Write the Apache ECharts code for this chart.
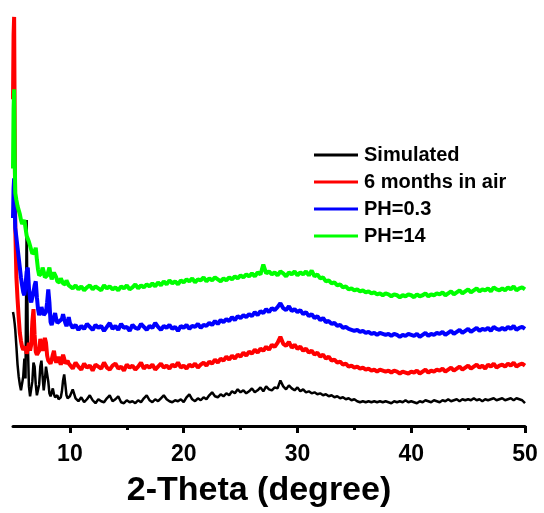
<!DOCTYPE html>
<html>
<head>
<meta charset="utf-8">
<title>XRD patterns</title>
<script src="https://cdn.jsdelivr.net/npm/echarts@6/dist/echarts.min.js"></script>
<style>
  html, body { margin: 0; padding: 0; background: #ffffff; }
  #chart { width: 544px; height: 513px; }
</style>
</head>
<body>
<div id="chart"></div>
<script>
// Sampling grid: fine steps at low angle, 0.25 degree steps from 10 to 50
const lowAngle = [5.00, 5.05, 5.10, 5.15, 5.20, 5.3, 5.4, 5.5, 5.6, 5.7, 5.8, 5.9,
  6.0, 6.1, 6.2, 6.3, 6.4, 6.5, 6.6, 6.7, 6.8, 6.9,
  7.0, 7.1, 7.2, 7.3, 7.4, 7.5, 7.6, 7.7, 7.8, 7.9,
  8.0, 8.1, 8.2, 8.3, 8.4, 8.5, 8.6, 8.7, 8.8, 8.9,
  9.0, 9.1, 9.2, 9.3, 9.4, 9.5, 9.6, 9.7, 9.8, 9.9];
const wideScan = [];
for (let k = 0; k <= 160; k++) wideScan.push(+(10 + k * 0.25).toFixed(2));

const seriesNames = ['Simulated', '6 months in air', 'PH=0.3', 'PH=14'];
const tickLabels = [10, 20, 30, 40, 50];
const minorTicks = [15, 25, 35, 45];

// Intensities (offset stacked, arbitrary units)
const simulatedLow = [115, 112, 108, 103, 97, 80, 62, 50, 42, 36, 34, 50,
  68, 48, 208, 85, 40, 30, 32, 45, 64, 60,
  42, 31, 30, 42, 60, 66, 50, 36, 46, 60,
  62, 45, 33, 30, 34, 38, 32, 29, 28, 31,
  27, 26, 29, 35, 46, 52, 42, 31, 28, 27];
const simulatedHigh = [
  30, 37, 28, 25, 29, 24, 27, 31,
  26, 23, 27, 25, 24, 28, 31, 25,
  27, 30, 24, 23, 26, 24, 25, 23,
  26, 24, 28, 31, 26, 24, 27, 25,
  28, 31, 27, 25, 24, 26, 25, 27,
  24, 29, 32, 27, 25, 28, 26, 29,
  27, 31, 34, 30, 29, 32, 30, 33,
  31, 35, 33, 37, 34, 36, 33, 35,
  38, 34, 36, 39, 35, 40, 37, 36,
  39, 38, 46, 40, 37, 41, 38, 36,
  39, 35, 37, 34, 35, 33, 34, 32,
  33, 31, 32, 30, 31, 29, 30, 28,
  29, 27, 28, 26, 27, 25, 24, 25,
  24, 25, 24, 25, 24, 25, 24, 25,
  24, 23, 25, 24, 25, 24, 26, 24,
  25, 24, 23, 25, 24, 26, 25, 24,
  26, 25, 24, 26, 25, 27, 25, 26,
  27, 25, 27, 26, 27, 26, 28, 26,
  27, 25, 27, 26, 27, 28, 26, 27,
  28, 26, 27, 28, 26, 28, 27, 26,
  23];

const airLow = [330, 395, 413, 300, 200, 150, 128, 110, 94, 86, 80, 77,
  75, 80, 73, 78, 84, 76, 82, 105, 118, 92,
  75, 72, 70, 76, 88, 90, 76, 80, 89, 84,
  71, 66, 64, 63, 67, 72, 76, 68, 64, 66,
  70, 65, 62, 66, 72, 68, 63, 61, 66, 63];
const airHigh = [
  62, 58, 64, 60, 57, 63, 59, 61,
  56, 62, 60, 58, 64, 59, 57, 61,
  63, 58, 60, 56, 62, 59, 61, 57,
  60, 64, 58, 61, 59, 62, 57, 60,
  63, 59, 61, 58, 62, 60, 64, 59,
  61, 58, 62, 60, 63, 59, 62, 64,
  61, 65, 63, 67, 64, 68, 66, 70,
  67, 71, 68, 72, 70, 74, 71, 75,
  73, 77, 74, 78, 76, 80, 77, 82,
  80, 84, 90, 83, 81, 85, 79, 82,
  78, 80, 76, 78, 74, 76, 72, 74,
  70, 72, 68, 70, 66, 67, 64, 65,
  62, 63, 60, 61, 59, 60, 58, 59,
  57, 58, 56, 57, 55, 57, 56, 55,
  56, 54, 56, 55, 53, 55, 54, 53,
  55, 54, 56, 53, 55, 57, 54, 56,
  55, 57, 56, 58, 55, 57, 59, 56,
  58, 60, 57, 59, 61, 58, 60, 62,
  59, 61, 58, 62, 60, 63, 59, 61,
  62, 60, 63, 61, 64, 60, 62, 63,
  61];

const acidLow = [210, 240, 250, 220, 200, 190, 180, 170, 160, 150, 142, 135,
  132, 142, 156, 160, 140, 128, 125, 130, 135, 142,
  146, 130, 118, 112, 115, 120, 118, 112, 110, 115,
  125, 138, 125, 105, 102, 106, 110, 114, 108, 104,
  102, 106, 104, 108, 113, 108, 104, 101, 104, 110];
const acidHigh = [
  104, 99, 102, 97, 101, 98, 103, 100,
  97, 102, 99, 101, 96, 100, 104, 98,
  101, 97, 103, 99, 100, 96, 102, 99,
  98, 103, 100, 97, 101, 99, 104, 100,
  97, 101, 99, 102, 98, 100, 96, 101,
  99, 102, 98, 101, 100, 103, 99, 102,
  101, 104, 102, 106, 103, 107, 105, 108,
  106, 110, 107, 111, 109, 112, 110, 113,
  111, 115, 112, 116, 114, 118, 115, 119,
  117, 120, 124, 119, 117, 121, 116, 118,
  115, 117, 113, 115, 111, 113, 109, 111,
  107, 109, 105, 106, 103, 104, 101, 102,
  99, 100, 98, 97, 96, 97, 95, 96,
  94, 95, 93, 94, 92, 94, 93, 92,
  93, 91, 93, 92, 90, 92, 91, 93,
  92, 91, 93, 90, 92, 94, 91, 93,
  92, 94, 93, 95, 92, 94, 96, 93,
  95, 97, 94, 96, 98, 95, 97, 99,
  96, 98, 97, 99, 96, 100, 98, 97,
  99, 97, 100, 98, 101, 97, 99, 100,
  98];

const alkaliLow = [260, 320, 340, 270, 235, 228, 222, 218, 214, 208, 204, 206,
  208, 200, 192, 190, 186, 182, 178, 174, 172, 176,
  180, 168, 158, 152, 150, 154, 160, 156, 150, 148,
  152, 156, 160, 153, 148, 150, 155, 157, 150, 146,
  148, 145, 149, 147, 144, 146, 143, 147, 145, 142];
const alkaliHigh = [
  143, 139, 142, 138, 141, 137, 140, 142,
  138, 141, 139, 137, 142, 139, 141, 138,
  140, 137, 141, 139, 142, 138, 140, 143,
  139, 142, 140, 143, 141, 144, 141, 145,
  142, 146, 143, 147, 144, 146, 143, 147,
  145, 148, 146, 149, 145, 148, 147, 150,
  146, 149, 147, 150, 148, 146, 149, 147,
  150, 148, 151, 149, 152, 150, 153, 151,
  154, 151, 155, 153, 163, 154, 156, 153,
  155, 152, 156, 154, 151, 155, 153, 156,
  152, 155, 153, 156, 152, 157, 151, 153,
  149, 150, 146, 147, 144, 145, 142, 143,
  140, 141, 138, 139, 137, 138, 136, 137,
  135, 136, 134, 135, 133, 134, 132, 134,
  133, 131, 133, 132, 130, 132, 131, 133,
  132, 130, 133, 131, 132, 134, 131, 133,
  132, 134, 133, 135, 132, 134, 136, 133,
  135, 137, 134, 136, 138, 135, 137, 139,
  136, 138, 137, 139, 136, 140, 138, 137,
  139, 137, 140, 138, 141, 137, 139, 140,
  138];

const twoTheta = lowAngle.concat(wideScan);

function pattern(low, high) {
  const counts = low.concat(high);
  return twoTheta.map((x, i) => [x, counts[i]]);
}

const lineColors = ['#000000', '#ff0000', '#0000ff', '#00ff00'];
const lineWidths = [2.5, 4, 4, 4];
const patterns = [
  pattern(simulatedLow, simulatedHigh),
  pattern(airLow, airHigh),
  pattern(acidLow, acidHigh),
  pattern(alkaliLow, alkaliHigh)
];

const FONT = '"Liberation Sans", Arial, Helvetica, sans-serif';

const chart = echarts.init(document.getElementById('chart'), null, { renderer: 'canvas' });

chart.setOption({
  animation: false,
  backgroundColor: '#ffffff',
  grid: { left: 13, right: 19, top: 10, bottom: 83 },
  legend: {
    data: seriesNames,
    orient: 'vertical',
    left: 309,
    top: 140,
    icon: 'path://M0,0H44V3H0Z',
    itemWidth: 44,
    itemHeight: 20,
    itemGap: 7,
    textStyle: {
      fontFamily: FONT,
      fontWeight: 'bold',
      fontSize: 20,
      lineHeight: 20,
      color: '#000000',
      padding: [0, 0, 0, 1]
    }
  },
  xAxis: [
    {
      type: 'value',
      min: 5,
      max: 50,
      position: 'bottom',
      splitLine: { show: false },
      axisLine: { show: true, lineStyle: { color: '#000000', width: 3 } },
      axisTick: {
        show: true,
        inside: false,
        length: 7,
        customValues: tickLabels,
        lineStyle: { color: '#000000', width: 3 }
      },
      axisLabel: {
        customValues: tickLabels,
        margin: 17,
        fontFamily: FONT,
        fontWeight: 'bold',
        fontSize: 23,
        color: '#000000'
      },
      name: '2-Theta (degree)',
      nameLocation: 'middle',
      nameGap: 48,
      nameTextStyle: {
        fontFamily: FONT,
        fontWeight: 'bold',
        fontSize: 34,
        color: '#000000',
        padding: [0, 20, 0, 0]
      }
    },
    {
      type: 'value',
      min: 5,
      max: 50,
      position: 'bottom',
      splitLine: { show: false },
      axisLine: { show: false },
      axisTick: {
        show: true,
        inside: false,
        length: 4,
        customValues: minorTicks,
        lineStyle: { color: '#000000', width: 3 }
      },
      axisLabel: { show: false }
    }
  ],
  yAxis: {
    type: 'value',
    min: 0,
    max: 420,
    show: false
  },
  series: patterns.map((d, i) => ({
    name: seriesNames[i],
    type: 'line',
    xAxisIndex: 0,
    data: d,
    symbol: 'none',
    showSymbol: false,
    color: lineColors[i],
    lineStyle: { color: lineColors[i], width: lineWidths[i] },
    z: 2 + i
  }))
});
</script>
</body>
</html>
